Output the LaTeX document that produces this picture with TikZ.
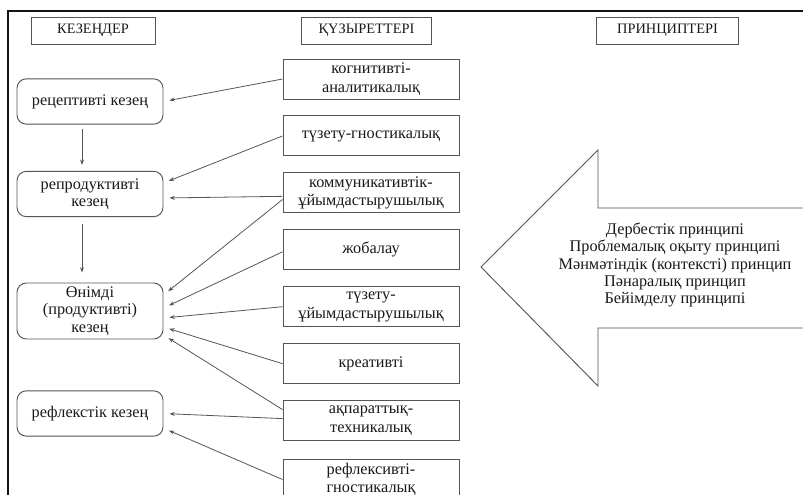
\documentclass[tikz,border=0pt]{standalone}
\usepackage{fontspec}
\setmainfont{Liberation Serif}
\usetikzlibrary{arrows.meta, positioning}
\definecolor{frame}{RGB}{20,20,20}
\definecolor{edge}{RGB}{85,85,85}
\definecolor{ink}{RGB}{25,25,25}

\begin{document}
\begin{tikzpicture}[
    x=0.75pt, y=-0.75pt,
    head/.style={rectangle, draw=edge, line width=0.7pt, minimum height=20.25pt, inner sep=2pt, font=\fontsize{10.8}{13}\selectfont, text=ink},
    stage/.style={rectangle, rounded corners=7pt, draw=edge, line width=0.7pt, minimum width=109.5pt, minimum height=34pt, inner sep=1pt, align=center, font=\fontsize{12.2}{12.5}\selectfont, text=ink},
    comp/.style={rectangle, draw=edge, line width=0.7pt, minimum width=132pt, minimum height=30pt, inner sep=1pt, align=center, font=\fontsize{12.2}{14}\selectfont, text=ink},
    arr/.style={-{Stealth[length=4pt, width=3pt]}, line width=0.6pt, edge, shorten >=4.5pt},
    node distance=12pt,
]
\useasboundingbox (0,0) rectangle (803,495);
\draw[frame, line width=1pt] (8,500) -- (8,11) -- (810,11);

\node[head, minimum width=93pt] (kezen) at (93,30.5) {КЕЗЕҢДЕР};
\node[head, minimum width=98pt] (kuzyr) at (366.5,30.5) {ҚҮЗЫРЕТТЕРІ};
\node[head, minimum width=106pt] (princ) at (667.5,30.5) {ПРИНЦИПТЕРІ};

\node[stage] (recept) at (90,101.5) {рецептивті кезең};
\node[stage] (reprod) at (90,194) {репродуктивті\\кезең};
\node[stage, minimum height=42pt, font=\fontsize{12.2}{13}\selectfont] (onimdi) at (90,311) {Өнімді\\(продуктивті)\\кезең};
\node[stage] (reflex) at (90,413.5) {рефлекстік кезең};

\node[comp] (kognit) at (371,79) {когнитивті-\\аналитикалық};
\node[comp, below=of kognit] (tuzgn) {түзету-гностикалық};
\node[comp, below=of tuzgn] (kommun) {коммуникативтік-\\ұйымдастырушылық};
\node[comp, below=of kommun] (zhoba) {жобалау};
\node[comp, below=of zhoba] (tuzuy) {түзету-\\ұйымдастырушылық};
\node[comp, below=of tuzuy] (kreat) {креативті};
\node[comp, below=of kreat] (akpar) {ақпараттық-\\техникалық};
\node[comp, below=13.5pt of akpar] (reflgn) {рефлексивті-\\гностикалық};

\draw[edge, line width=0.7pt] (812,208) -- (598,208) -- (598,150) -- (481,267) -- (598,386) -- (598,328) -- (812,328);
\node[align=center, text=ink, font=\fontsize{12.2}{13}\selectfont] (ptext) at (675,265) {Дербестік принципі\\Проблемалық оқыту принципі\\Мәнмәтіндік (контексті) принцип\\Пәнаралық принцип\\Бейімделу принципі};

\draw[arr, shorten <=3pt] ([xshift=-6pt]recept.south) -- ([xshift=-6pt]reprod.north);
\draw[arr, shorten <=5pt, shorten >=7.5pt] ([xshift=-6pt]reprod.south) -- ([xshift=-6pt]onimdi.north);

\draw[arr] (kognit.west) -- (recept.east);
\draw[arr] (tuzgn.west) -- ([yshift=8.25pt]reprod.east);
\draw[arr] ([yshift=-2.6pt]kommun.west) -- ([yshift=-3pt]reprod.east);
\draw[arr] ([yshift=-5pt]kommun.west) -- ([yshift=12pt]onimdi.east);
\draw[arr] ([yshift=-1.5pt]zhoba.west) -- ([yshift=2.25pt]onimdi.east);
\draw[arr] (tuzuy.west) -- ([yshift=-5.25pt]onimdi.east);
\draw[arr] (kreat.west) -- ([yshift=-12pt]onimdi.east);
\draw[arr] ([yshift=8.25pt]akpar.west) -- ([yshift=-18pt]onimdi.east);
\draw[arr] ([yshift=1.5pt]akpar.west) -- (reflex.east);
\draw[arr] (reflgn.west) -- ([yshift=-11pt]reflex.east);
\end{tikzpicture}
\end{document}
